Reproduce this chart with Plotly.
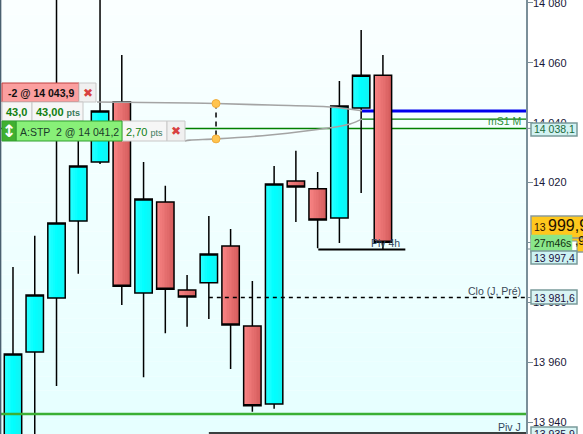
import plotly.graph_objects as go

W, H = 583, 434
FONT = "Liberation Sans"

# --- data ---
bar_index = list(range(18))
open_ = [13927.3, 13963.4, 13981.4, 14007.2, 14026.9, 14046.9, 13983.1, 14013.5, 13984.1, 13986.5,
         13998.8, 13972.1, 13946.0, 14020.5, 14017.9, 14008.2, 14044.9, 14055.9]
close = [13962.7, 13982.4, 14006.5, 14025.5, 14043.9, 13985.4, 14014.5, 13984.4, 13981.8, 13996.1,
         13972.4, 13945.4, 14019.5, 14018.5, 14007.5, 14045.6, 14055.9, 14000.1]
high = [13991.8, 14002.2, 14084.3, 14044.3, 14084.3, 14062.6, 14026.9, 14018.9, 13989.1, 14008.8,
        14004.5, 13987.1, 14025.5, 14030.6, 14023.5, 14053.9, 14071.0, 14062.6]
low = [13920.6, 13924.0, 13952.0, 13989.5, 14026.2, 13979.1, 13955.0, 13969.7, 13971.8, 13974.4,
       13957.7, 13943.4, 13944.4, 14006.8, 13998.1, 13999.8, 14016.5, 13997.8]

tick_values = [14080, 14060, 14040, 14020, 14000, 13980, 13960, 13940]
tick_labels = ["14 080", "14 060", "14 040", "14 020", "14 000", "13 980", "13 960", "13 940"]

position_price = 14043.9
stop_price = 14041.2
ms1_price = 14038.1
clo_price = 13981.6
piv4h_price = 13997.6
pivj_price = 13936.3
green_level = 13942.7

upper_curve_x = [3.86, 8.13, 9.33, 11.81, 14.57, 16.04]
upper_curve_y = [14046.9, 14046.6, 14046.4, 14045.9, 14045.25, 14044.0]
lower_curve_x = [7.9, 8.13, 9.33, 11.81, 14.57, 15.49, 16.04]
lower_curve_y = [14033.9, 14034.2, 14034.6, 14035.9, 14038.3, 14039.6, 14041.2]
dot_x = [9.33, 9.33]
dot_y = [14046.4, 14034.6]

X_RANGE = [-0.597, 23.575]
Y_RANGE = [13936.0, 14081.0]


def lerp(a, b, t):
    return tuple(a[i] + (b[i] - a[i]) * t for i in range(3))


def rgb(c):
    return "rgb(%d,%d,%d)" % tuple(round(v) for v in c)


fig = go.Figure()

# gradient-shaded candle bodies, drawn as thin bars underneath the outlines
red_i = [i for i in bar_index if close[i] < open_[i]]
cyan_i = [i for i in bar_index if close[i] >= open_[i]]
N = 10
BODY = 0.78
w = BODY / N
for k in range(N):
    t = k / (N - 1)
    off = -BODY / 2 + k * w
    fig.add_trace(go.Bar(
        x=red_i, y=[abs(open_[i] - close[i]) for i in red_i], base=[min(open_[i], close[i]) for i in red_i],
        width=w * 1.3 if k < N - 1 else w, offset=off,
        marker=dict(color=rgb(lerp((247, 130, 130), (214, 94, 94), t)), line=dict(width=0)),
        hoverinfo="skip", showlegend=False))
    c = lerp((40, 255, 255), (0, 255, 255), t * 2) if t < 0.5 else lerp((0, 255, 255), (16, 245, 245), t * 2 - 1)
    fig.add_trace(go.Bar(
        x=cyan_i, y=[abs(open_[i] - close[i]) for i in cyan_i], base=[min(open_[i], close[i]) for i in cyan_i],
        width=w * 1.3 if k < N - 1 else w, offset=off,
        marker=dict(color=rgb(c), line=dict(width=0)),
        hoverinfo="skip", showlegend=False))

# outlines and wicks
style = dict(line=dict(color="black", width=1.5), fillcolor="rgba(0,0,0,0)")
fig.add_trace(go.Candlestick(x=bar_index, open=open_, high=high, low=low, close=close,
                             increasing=style, decreasing=style, whiskerwidth=0,
                             hoverinfo="skip", showlegend=False))


def level(x0, x1, y, color, width, dash="solid"):
    fig.add_trace(go.Scatter(x=[x0, x1], y=[y, y], mode="lines", hoverinfo="skip", showlegend=False,
                             line=dict(color=color, width=width, dash=dash)))


level(X_RANGE[0], X_RANGE[1], green_level, "#3cb034", 2.5)
level(9.0, X_RANGE[1], clo_price, "black", 1.5, "4px,4px")
level(14.03, 18.03, piv4h_price, "black", 2)
level(9.0, X_RANGE[1], pivj_price, "black", 1.5)

for cx, cy in ((upper_curve_x, upper_curve_y), (lower_curve_x, lower_curve_y)):
    fig.add_trace(go.Scatter(x=cx, y=cy, mode="lines", hoverinfo="skip", showlegend=False,
                             line=dict(color="#a4a4a4", width=1.6, shape="spline")))
fig.add_trace(go.Scatter(x=dot_x, y=dot_y, mode="lines", hoverinfo="skip", showlegend=False,
                         line=dict(color="black", width=1.5, dash="5px,4px")))
fig.add_trace(go.Scatter(x=dot_x, y=dot_y, mode="markers", hoverinfo="skip", showlegend=False,
                         marker=dict(size=8, color="#ffc44f", line=dict(color="#f0ac3c", width=1))))

shapes = []
# page-wide pale vertical gradient behind the plot
STEPS = 30
for s in range(STEPS):
    t = s / (STEPS - 1)
    shapes.append(dict(type="rect", xref="paper", yref="paper", layer="below",
                       x0=0, x1=526 / W, y0=1 - s / STEPS, y1=1 - (s + 1) / STEPS,
                       fillcolor=rgb(lerp((250, 255, 255), (230, 255, 255), t)), line=dict(width=0)))
# levels that pass behind the candles
for x0, y, color, width in ((16.04, position_price, "#0000ee", 3),
                            (16.04, stop_price, "#008000", 1.2),
                            (X_RANGE[0], ms1_price, "#008000", 1.5)):
    shapes.append(dict(type="line", xref="x", yref="y", layer="below", x0=x0, x1=X_RANGE[1], y0=y, y1=y,
                       line=dict(color=color, width=width)))
shapes.append(dict(type="line", xref="paper", yref="paper", x0=0.6 / W, x1=0.6 / W, y0=0, y1=1,
                   line=dict(color="#4a6070", width=1.5)))

annotations = []


def box(x0, y0, x1, y1, fill, border="#c8c8c8", bw=1):
    shapes.append(dict(type="rect", xref="paper", yref="paper", layer="above",
                       x0=x0 / W, x1=x1 / W, y0=1 - y0 / H, y1=1 - y1 / H,
                       fillcolor=fill, line=dict(color=border, width=bw)))


def text(x, y, s, size=11, color="#101830", anchor="left", bold=False, family=FONT):
    annotations.append(dict(xref="paper", yref="paper", x=x / W, y=1 - y / H, text=("<b>%s</b>" % s) if bold else s,
                            showarrow=False, xanchor=anchor, yanchor="middle", borderpad=0, borderwidth=0,
                            font=dict(family=family, size=size, color=color)))


def tick_stub(y, color="#7a8f99"):
    shapes.append(dict(type="line", xref="paper", yref="paper", x0=526 / W, x1=531 / W,
                       y0=1 - y / H, y1=1 - y / H, line=dict(color=color, width=1)))


# level captions on the chart
text(521, 121, "mS1 M", 10.5, "#2f8f3a", "right")
text(521, 291, "Clo (J, Pré)", 10.5, "#3a4a58", "right")
text(521, 427, "Piv J", 10.5, "#304860", "right")
text(400, 243, "Piv 4h", 10.5, "#304860", "right")

# order tickets
box(2, 83, 79, 102, "#fb9f9f", "#c04040")
box(79, 83, 96, 102, "#f0f0f0")
text(8, 93, "-2 @ 14 043,9", 10.5, "#101010", bold=True)
text(87.5, 93, "✖", 12, "#d84040", "center")
box(2, 102, 32, 121, "#f6f6f6")
box(32, 102, 83, 121, "#f6f6f6")
text(6, 112, "43,0", 11, "#108010", bold=True)
text(36, 112, "43,00 <span style='font-size:9px;color:#3a7a5a'>pts</span>", 11, "#108010", bold=True)
box(122, 121, 167, 141, "#f6f6f6")
box(167, 121, 185, 141, "#f0f0f0")
box(16, 121, 122, 141, "#88f078", "#30a030")
box(2, 121, 16, 141, "#40b030", "#30a030")
text(9, 131, "↕", 17, "white", "center", bold=True, family="DejaVu Sans")
text(20, 132, "A:STP  2 @ 14 041,2", 10.5, "#1a3a2a")
text(126, 132, "2,70 <span style='font-size:9px;color:#3a7a5a'>pts</span>", 11, "#108010")
text(176, 131, "✖", 12, "#d84040", "center")

# price flags on the axis
tick_stub(128.4)
box(531, 123, 577, 136, "#d2f2f2", "#7a9a9a", 1.5)
text(534, 129.5, "14 038,1", 10.5, "#1a6a3a")

tick_stub(249)
box(531, 236, 590, 252, "#ffc81e", "#8a9a9a", 1.5)
text(575, 241, ",9", 12, "#201000")
box(531, 216, 590, 238, "#ffc81e", "#8a9a9a", 1.5)
text(534, 227, "13", 10.5, "#301000")
text(548, 226, "999,9", 16, "#201000")
box(560, 241, 577, 251, "#ffffff", "#7a9a9a", 1)
box(531, 235, 572, 251, "#8ae68a", "#8ae68a", 0.5)
text(534, 243, "27m46s", 10.5, "#103010")
box(531, 251, 577, 264, "#cdf3f3", "#7a9a9a", 1.5)
text(534, 257.5, "13 997,4", 10.5, "#201040")

tick_stub(297.5)
box(531, 290, 577, 304, "#d8f4f4", "#7a9a9a", 1.5)
text(534, 297.5, "13 981,6", 10.5, "#201040")

box(531, 427, 577, 445, "#d8f4f4", "#7a9a9a", 1.5)
text(534, 434, "13 935,9", 10.5, "#201040")

fig.update_layout(
    width=W, height=H, margin=dict(l=0, r=0, t=0, b=0, pad=0, autoexpand=False),
    paper_bgcolor="white", plot_bgcolor="rgba(0,0,0,0)",
    barmode="overlay", bargap=0, boxgap=0.2, boxgroupgap=0, showlegend=False,
    shapes=shapes, annotations=annotations,
    xaxis=dict(domain=[0, 526 / W], range=X_RANGE, showgrid=False, zeroline=False, showticklabels=False,
               ticks="", showline=False, rangeslider=dict(visible=False), fixedrange=True),
    yaxis=dict(side="right", range=Y_RANGE, tickmode="array", tickvals=tick_values, ticktext=tick_labels,
               showgrid=False, zeroline=False, showline=True, linecolor="#7a8f99", linewidth=1.5,
               ticks="outside", ticklen=5, tickwidth=1, tickcolor="#7a8f99", automargin=False,
               ticklabelstandoff=-2, ticklabeloverflow="allow",
               tickfont=dict(family=FONT, size=11, color="#181838"), fixedrange=True),
)

fig.write_html("out.html", config=dict(displayModeBar=False),
               post_script="document.documentElement.style.margin='0';document.body.style.margin='0';document.body.style.overflow='hidden';")
